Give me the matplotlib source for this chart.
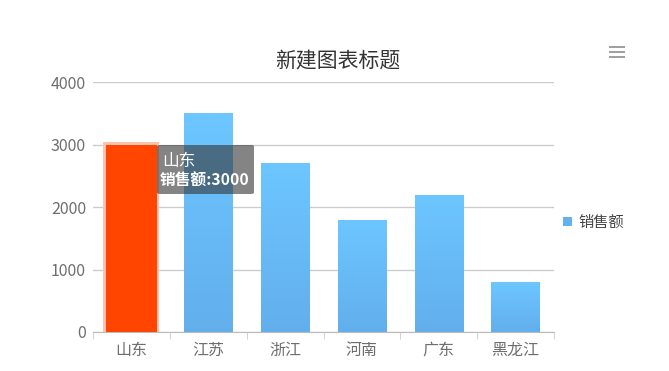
import numpy as np
import matplotlib
matplotlib.use('Agg')
import matplotlib.pyplot as plt
from matplotlib.colors import LinearSegmentedColormap
from matplotlib.patches import Rectangle, FancyBboxPatch

plt.rcParams['font.family'] = ['Noto Sans CJK SC', 'DejaVu Sans']

# data
categories = ['山东', '江苏', '浙江', '河南', '广东', '黑龙江']
sales = [3000, 3500, 2700, 1800, 2200, 800]
series_name = '销售额'
chart_title = '新建图表标题'
highlight = 0

fig = plt.figure(figsize=(6.69, 3.71), dpi=100)
ax = fig.add_axes([93/669, 39/371, 461/669, 250/371])

x = np.arange(len(categories))
bar_w = 0.63
grad = LinearSegmentedColormap.from_list('g', ['#62afec', '#6dc6ff'])
gimg = np.linspace(0, 1, 100).reshape(-1, 1)

for i, v in enumerate(sales):
    if i == highlight:
        continue
    bars = ax.bar(x[i], v, width=bar_w, color='none', zorder=3)
    im = ax.imshow(gimg, cmap=grad, origin='lower', aspect='auto',
                   extent=[x[i]-bar_w/2, x[i]+bar_w/2, 0, v], zorder=3)
    im.set_clip_path(bars[0])

# highlighted bar with halo
hv = sales[highlight]
ax.bar(x[highlight], hv + 45, width=bar_w + 0.1, color='#ffc2ad', zorder=2.5)
ax.bar(x[highlight], hv, width=bar_w + 0.04, color='#ff4500', zorder=3)

ax.set_xlim(-0.5, len(categories) - 0.5)
ax.set_ylim(0, 4000)
ax.set_yticks([0, 1000, 2000, 3000, 4000])
ax.set_xticks(x)
ax.set_xticklabels(categories)
ax.set_xticks(np.arange(len(categories) + 1) - 0.5, minor=True)
ax.tick_params(axis='x', which='major', length=0, pad=7, labelsize=11.5, labelcolor='#6e6e6e')
ax.tick_params(axis='x', which='minor', length=5, color='#cccccc', direction='out')
ax.tick_params(axis='y', length=0, pad=5, labelsize=11.5, labelcolor='#6e6e6e')
ax.grid(axis='y', color='#cccccc', linewidth=1, zorder=0)
for s in ['top', 'right', 'left']:
    ax.spines[s].set_visible(False)
ax.spines['bottom'].set_color('#bbbbbb')
ax.set_axisbelow(True)

# tooltip
tip = FancyBboxPatch((157/669, (371-194)/371), 97/669, 49/371,
                     boxstyle='round,pad=0,rounding_size=0.004',
                     transform=fig.transFigure, facecolor='#333333', alpha=0.6,
                     edgecolor='#333333', linewidth=0, zorder=10)
fig.patches.append(tip)
fig.text(162/669, (371-161)/371, categories[highlight], color='white', fontsize=12,
         va='center', ha='left', zorder=11)
fig.text(160/669, (371-181)/371, '%s:%d' % (series_name, sales[highlight]), color='white',
         fontsize=11.3, fontweight='bold', va='center', ha='left', zorder=11)

# title
fig.text(338/669, (371-61)/371, chart_title, fontsize=15, color='#333333', ha='center', va='center')

# legend
fig.patches.append(Rectangle((563/669, (371-226)/371), 9/669, 9/371,
                             transform=fig.transFigure, facecolor='#63b2ee', edgecolor='none'))
fig.text(578/669, (371-222)/371, series_name, fontsize=11, color='#444444', va='center', ha='left')

# menu icon
for yy in [47, 52, 57]:
    fig.patches.append(Rectangle((609/669, (371-yy-1)/371), 16/669, 2/371,
                                 transform=fig.transFigure, facecolor='#a0a0a0', edgecolor='none'))

fig.savefig('out.png', dpi=100)
